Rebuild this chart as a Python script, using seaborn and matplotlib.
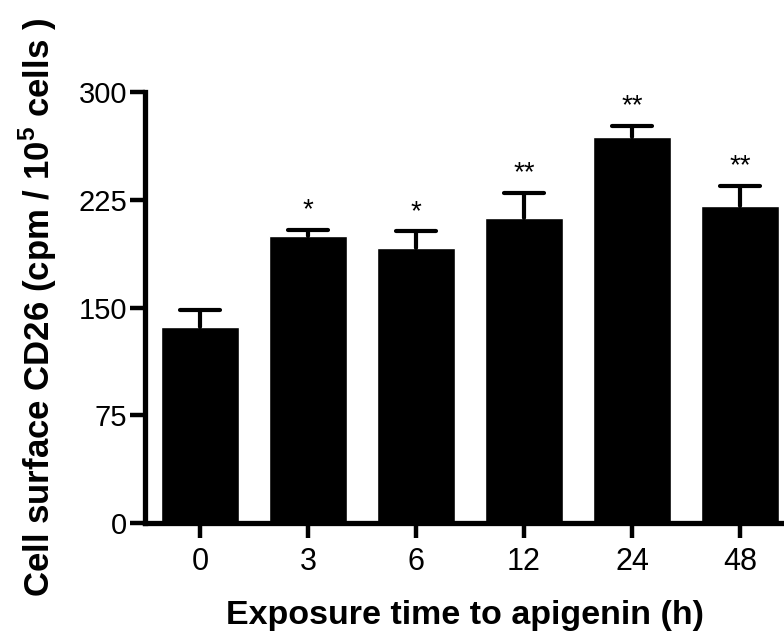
import matplotlib
matplotlib.use("Agg")
import matplotlib.pyplot as plt
import seaborn as sns
import numpy as np
import pandas as pd

# Exposure times and measured CD26 surface activity (mean and SEM)
times = ["0", "3", "6", "12", "24", "48"]
means = [136.5, 200.0, 191.5, 212.5, 268.5, 221.0]
sem = [12.0, 4.0, 11.5, 17.5, 8.0, 13.5]
marks = ["", "*", "*", "**", "**", "**"]

sns.set_theme(style="ticks")
plt.rcParams["font.family"] = ["Liberation Sans", "DejaVu Sans"]
plt.rcParams["mathtext.fontset"] = "custom"
plt.rcParams["mathtext.bf"] = "Liberation Sans:bold"
plt.rcParams["mathtext.rm"] = "Liberation Sans"
for key in ["text.color", "axes.labelcolor", "xtick.color", "ytick.color",
            "axes.edgecolor"]:
    plt.rcParams[key] = "black"

df = pd.DataFrame({"time": times, "cd26": means})

fig = plt.figure(figsize=(7.84, 6.4), dpi=100)
ax = fig.add_axes([0.185, 0.1828, 0.815, 0.6734])

sns.barplot(data=df, x="time", y="cd26", order=times, color="black",
            width=0.72, errorbar=None, ax=ax, saturation=1)

# upward-only SEM whiskers with caps
xs = np.arange(len(times))
tops = np.array(means) + np.array(sem)
ax.vlines(xs, means, tops, color="black", linewidth=3, capstyle="round")
ax.hlines(tops, xs - 0.185, xs + 0.185, color="black", linewidth=3,
          capstyle="round")

for x, top, t in zip(xs, tops, marks):
    if t:
        ax.annotate(t, (x, top), xytext=(0, 9), textcoords="offset points",
                    ha="center", va="baseline", fontsize=20, color="black")

ax.set_ylim(0, 300)
ax.set_xlim(-0.509, 5.407)
ax.set_yticks([0, 75, 150, 225, 300])
ax.set_ylabel(r"Cell surface CD26 (cpm / 10$^{\mathbf{5}}$ cells )",
              fontsize=25, fontweight="bold", labelpad=14)
ax.set_xlabel("Exposure time to apigenin (h)", fontsize=24.5,
              fontweight="bold", labelpad=17)

for side in ["top", "right"]:
    ax.spines[side].set_visible(False)
for side in ["left", "bottom"]:
    ax.spines[side].set_linewidth(3.8)
    ax.spines[side].set_color("black")
    ax.spines[side].set_capstyle("projecting")
ax.tick_params(axis="both", width=3.2, length=11, colors="black",
               direction="out")
ax.tick_params(axis="y", labelsize=21, pad=2)
ax.tick_params(axis="x", labelsize=22, pad=6)

fig.savefig("out.png", dpi=100)
